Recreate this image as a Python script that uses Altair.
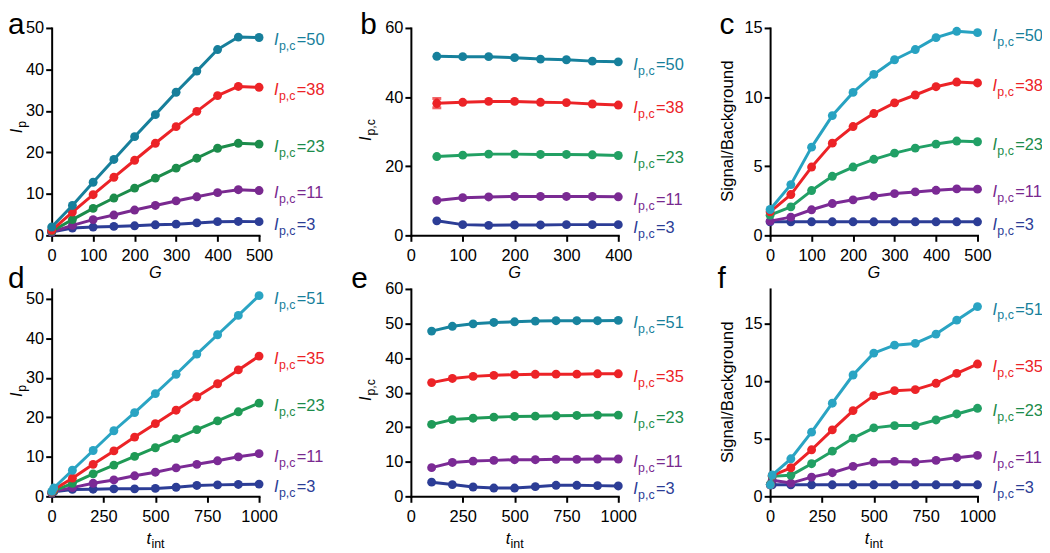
import altair as alt
import pandas as pd

FONT = "Liberation Sans"
FS = 16.5
SUB = 12.5

# ---------------- data ----------------
TOP_LABELS = ["=50", "=38", "=23", "=11", "=3"]
BOT_LABELS = ["=51", "=35", "=23", "=11", "=3"]

A_X = [0, 50, 100, 150, 200, 250, 300, 350, 400, 450, 500]
A_50 = [2.0, 7.2, 12.8, 18.3, 23.8, 29.1, 34.5, 39.6, 44.8, 47.8, 47.7]
A_38 = [1.2, 5.6, 9.8, 14.0, 18.1, 22.2, 26.2, 29.9, 33.7, 35.9, 35.7]
A_23 = [1.0, 3.8, 6.5, 9.0, 11.4, 13.8, 16.2, 18.6, 21.0, 22.2, 22.0]
A_11 = [0.8, 2.4, 3.8, 4.9, 6.1, 7.2, 8.3, 9.3, 10.3, 11.0, 10.8]
A_3 = [0.8, 1.75, 2.0, 2.15, 2.3, 2.55, 2.7, 3.0, 3.3, 3.35, 3.3]

B_X = [50, 100, 150, 200, 250, 300, 350, 400]
B_50 = [51.8, 51.7, 51.7, 51.4, 51.0, 50.8, 50.4, 50.2]
B_38 = [38.2, 38.5, 38.75, 38.75, 38.5, 38.4, 38.0, 37.7]
B_23 = [22.8, 23.2, 23.5, 23.5, 23.4, 23.4, 23.3, 23.1]
B_11 = [10.1, 10.9, 11.1, 11.25, 11.25, 11.25, 11.25, 11.15]
B_3 = [4.2, 3.1, 2.9, 3.0, 3.0, 3.1, 3.1, 3.1]
B_ERR_X = [50]
B_ERR_LO = [36.9]
B_ERR_HI = [39.6]

C_X = [0, 50, 100, 150, 200, 250, 300, 350, 400, 450, 500]
C_50 = [1.87, 3.67, 6.38, 8.66, 10.34, 11.64, 12.7, 13.44, 14.3, 14.76, 14.66]
C_38 = [1.7, 2.95, 4.94, 6.67, 7.87, 8.81, 9.58, 10.15, 10.75, 11.09, 11.02]
C_23 = [1.46, 2.06, 3.24, 4.27, 4.94, 5.5, 5.95, 6.31, 6.6, 6.82, 6.77]
C_11 = [1.03, 1.32, 1.85, 2.3, 2.57, 2.83, 3.02, 3.14, 3.26, 3.36, 3.34]
C_3 = [0.98, 0.98, 0.98, 0.98, 0.98, 0.98, 0.98, 0.98, 0.98, 0.98, 0.98]

D_X = [1, 10, 100, 200, 300, 400, 500, 600, 700, 800, 900, 1000]
D_51 = [1.25, 2.1, 6.6, 11.6, 16.6, 21.2, 26.0, 30.9, 36.0, 40.9, 45.8, 50.8]
D_35 = [1.1, 1.7, 4.6, 8.1, 11.5, 15.0, 18.4, 21.8, 25.2, 28.5, 32.0, 35.5]
D_23 = [1.0, 1.4, 3.3, 5.7, 7.9, 10.1, 12.3, 14.6, 16.9, 19.1, 21.4, 23.6]
D_11 = [0.8, 1.25, 2.2, 3.3, 4.15, 5.2, 6.1, 7.2, 8.1, 9.0, 10.0, 10.8]
D_3 = [0.8, 1.15, 1.75, 1.8, 1.9, 1.9, 2.0, 2.3, 2.75, 2.9, 3.0, 3.1]

E_X = [100, 200, 300, 400, 500, 600, 700, 800, 900, 1000]
E_51 = [47.8, 49.2, 49.9, 50.3, 50.5, 50.7, 50.8, 50.8, 50.8, 50.9]
E_35 = [32.9, 34.1, 34.7, 35.0, 35.2, 35.3, 35.35, 35.35, 35.45, 35.45]
E_23 = [20.8, 22.2, 22.6, 22.9, 23.1, 23.2, 23.3, 23.4, 23.5, 23.5]
E_11 = [8.3, 9.8, 10.2, 10.4, 10.6, 10.6, 10.7, 10.7, 10.8, 10.8]
E_3 = [4.1, 3.4, 2.7, 2.4, 2.4, 2.8, 3.2, 3.2, 3.1, 3.0]

F_X = [1, 10, 100, 200, 300, 400, 500, 600, 700, 800, 900, 1000]
F_51 = [1.0, 1.85, 3.26, 5.57, 8.08, 10.53, 12.43, 13.12, 13.27, 14.08, 15.29, 16.47]
F_35 = [1.0, 1.8, 2.48, 4.04, 5.77, 7.44, 8.74, 9.17, 9.26, 9.81, 10.67, 11.48]
F_23 = [1.05, 1.75, 1.82, 2.83, 3.92, 5.05, 5.94, 6.14, 6.14, 6.63, 7.15, 7.64]
F_11 = [1.0, 1.4, 1.15, 1.67, 2.05, 2.6, 2.97, 3.03, 2.97, 3.12, 3.35, 3.55]
F_3 = [1.0, 1.0, 1.0, 1.0, 1.0, 1.0, 1.0, 1.0, 1.0, 1.0, 1.0, 1.0]

COL_A = ["#177f9b", "#ec2327", "#1c8c4b", "#79298f", "#2c3d96"]
COL_B = ["#16809c", "#ec2327", "#22a063", "#7a2a93", "#2c3d96"]
COL_C = ["#27a2c1", "#ec2327", "#21a066", "#7b2a95", "#2c3d96"]
COL_D = ["#2aa4c3", "#ec2327", "#1f9a55", "#7b2a95", "#2c3d96"]
COL_E = ["#18849f", "#ec2327", "#1f9a58", "#7b2a95", "#2c3d96"]
COL_F = ["#2aa4c3", "#ec2327", "#22a064", "#7b2a95", "#2c3d96"]

W = 209
H = 209
ONE = pd.DataFrame({"k": [0]})


def txt(text, x, y, size=FS, style="normal", angle=0, align="left",
        baseline="alphabetic", dx=0, dy=0, color="black"):
    kw = dict(text=text, font=FONT, fontSize=size, fontStyle=style,
              align=align, baseline=baseline, dx=dx, dy=dy, color=color)
    if angle:
        kw["angle"] = angle
    return alt.Chart(ONE).mark_text(**kw).encode(x=alt.value(x), y=alt.value(y))


def panel(letter, lx, ly, xs_vals, series, labels, colors, xdom, xticks,
          ydom, yticks, ytitle, xtitle, err=None):
    xax = alt.Axis(values=xticks, title=None, format="d")
    yax = alt.Axis(values=yticks, title=None, format="d")
    xsc = alt.Scale(domain=xdom, nice=False, zero=False)
    ysc = alt.Scale(domain=ydom, nice=False, zero=False)
    xenc = alt.X("x:Q", scale=xsc, axis=xax)
    yenc = alt.Y("y:Q", scale=ysc, axis=yax)
    layers = []
    lab_rows = []
    # draw bottom series first so the top series lies on top
    for i in reversed(range(len(series))):
        vals = series[i]
        df = pd.DataFrame({"x": xs_vals, "y": vals})
        c = colors[i]
        layers.append(alt.Chart(df).mark_line(
            strokeWidth=3, color=c, strokeJoin="round",
            point=alt.OverlayMarkDef(filled=True, size=80, color=c, opacity=1)
        ).encode(x=xenc, y=yenc))
        lab_rows.append({"x": xs_vals[-1], "y": vals[-1], "lab": labels[i]})
    if err is not None:
        ex, elo, ehi, ecol = err
        edf = pd.DataFrame({"x": ex, "lo": elo, "hi": ehi})
        layers.append(alt.Chart(edf).mark_rule(color=ecol, strokeWidth=3).encode(
            x=xenc, y=alt.Y("lo:Q", scale=ysc, axis=yax), y2="hi:Q"))
        for f in ["lo", "hi"]:
            layers.append(alt.Chart(edf).mark_tick(color=ecol, orient="horizontal", size=9, thickness=3).encode(
                x=xenc, y=alt.Y(f + ":Q", scale=ysc, axis=yax)))
    ldf = pd.DataFrame(lab_rows)
    cenc = alt.Color("lab:N", scale=alt.Scale(domain=labels, range=colors), legend=None)
    lb = alt.Chart(ldf)
    layers.append(lb.mark_text(font=FONT, fontSize=FS, fontStyle="italic", align="left",
                               baseline="alphabetic", dx=15, dy=8, text="I").encode(x=xenc, y=yenc, color=cenc))
    layers.append(lb.mark_text(font=FONT, fontSize=SUB, align="left",
                               baseline="alphabetic", dx=20, dy=13, text="p,c").encode(x=xenc, y=yenc, color=cenc))
    layers.append(lb.mark_text(font=FONT, fontSize=FS, align="left",
                               baseline="alphabetic", dx=38, dy=8).encode(x=xenc, y=yenc, color=cenc, text="lab:N"))
    # panel letter
    layers.append(txt(letter, lx, ly, size=30))
    # y title
    kind, ax, ay = ytitle
    if kind == "Ip":
        layers.append(txt("I", ax, ay, style="italic", angle=270))
        layers.append(txt("p", ax, ay, size=SUB, angle=270, dx=5.5, dy=4))
    elif kind == "Ipc":
        layers.append(txt("I", ax, ay, style="italic", angle=270))
        layers.append(txt("p,c", ax, ay, size=SUB, angle=270, dx=5.5, dy=4))
    else:
        layers.append(txt("Signal/Background", ax, ay, size=17, angle=270, align="center"))
    # x title
    kind, ay = xtitle
    if kind == "G":
        layers.append(txt("G", W / 2, ay, style="italic", align="center", baseline="middle"))
    else:
        layers.append(txt("t", W / 2 - 9, ay, style="italic"))
        layers.append(txt("int", W / 2 - 9, ay, size=SUB, dx=5, dy=4))
    return alt.layer(*layers).properties(width=W, height=H)


pa = panel("a", -44, 6, A_X, [A_50, A_38, A_23, A_11, A_3], TOP_LABELS, COL_A,
           [0, 500], [0, 100, 200, 300, 400, 500], [0, 50], [0, 10, 20, 30, 40, 50],
           ("Ip", -30, 106), ("G", H + 38))
pb = panel("b", -51, 6, B_X, [B_50, B_38, B_23, B_11, B_3], TOP_LABELS, COL_B,
           [0, 400], [0, 100, 200, 300, 400], [0, 60], [0, 20, 40, 60],
           ("Ipc", -40, 114), ("G", H + 38),
           err=(B_ERR_X, B_ERR_LO, B_ERR_HI, COL_B[1]))
pc = panel("c", -51, 6, C_X, [C_50, C_38, C_23, C_11, C_3], TOP_LABELS, COL_C,
           [0, 500], [0, 100, 200, 300, 400, 500], [0, 15], [0, 5, 10, 15],
           ("SB", -37, 104), ("G", H + 38))
pd_ = panel("d", -44, -1, D_X, [D_51, D_35, D_23, D_11, D_3], BOT_LABELS, COL_D,
            [0, 1000], [0, 250, 500, 750, 1000], [0, 52.5], [0, 10, 20, 30, 40, 50],
            ("Ip", -30, 109), ("t", H + 48))
pe = panel("e", -60, -1, E_X, [E_51, E_35, E_23, E_11, E_3], BOT_LABELS, COL_E,
           [0, 1000], [0, 250, 500, 750, 1000], [0, 60], [0, 10, 20, 30, 40, 50, 60],
           ("Ipc", -40, 113), ("t", H + 48))
pf = panel("f", -53, -1, F_X, [F_51, F_35, F_23, F_11, F_3], BOT_LABELS, COL_F,
           [0, 1000], [0, 250, 500, 750, 1000], [0, 18], [0, 5, 10, 15],
           ("SB", -37, 104), ("t", H + 48))

chart = alt.concat(pa, pb, pc, pd_, pe, pf, columns=3,
                   spacing={"row": 54, "column": 153}, bounds="flush").properties(
    autosize=alt.AutoSizeParams(type="none"),
    padding={"left": 44, "top": 18, "right": 998, "bottom": 527},
).configure_view(stroke=None).configure_axis(
    domainColor="black", domainWidth=2, tickColor="black", tickWidth=2, tickSize=6,
    labelFont=FONT, labelFontSize=FS, labelColor="black", grid=False, labelFlush=False,
    domainCap="square", tickCap="butt",
).configure_axisX(labelPadding=6).configure_axisY(labelPadding=2)

chart.save("out.html", embed_options={"renderer": "svg", "actions": False})
